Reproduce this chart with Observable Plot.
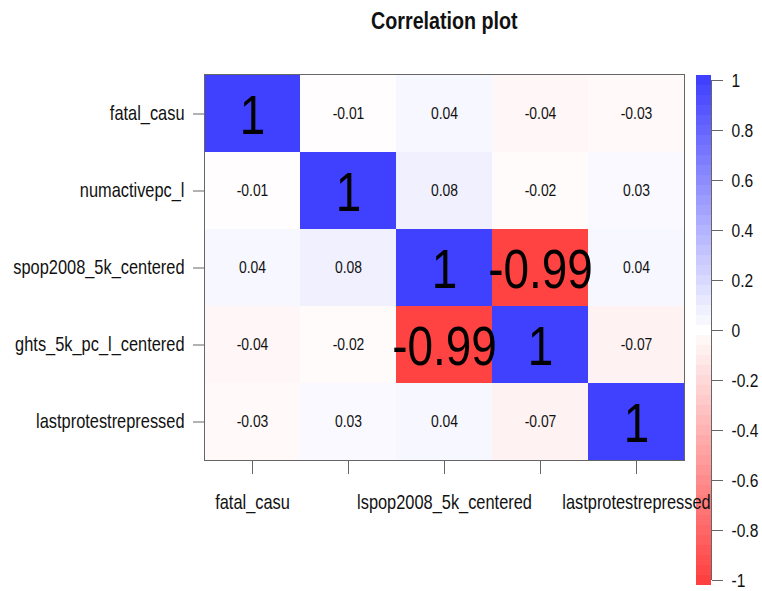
<!DOCTYPE html>
<html>
<head>
<meta charset="utf-8">
<script src="https://cdn.jsdelivr.net/npm/d3@7"></script>
<script src="https://cdn.jsdelivr.net/npm/@observablehq/plot@0.6"></script>
<style>
  html, body { margin: 0; padding: 0; background: #fff; }
  #wrap { position: relative; width: 762px; height: 591px; overflow: hidden; font-family: "Liberation Sans", Arial, sans-serif; }
  #title { position: absolute; left: 204px; width: 480px; top: 7px; text-align: center; z-index: 3; }
  #title span { display: inline-block; transform: scaleX(0.82); font-weight: bold; font-size: 24px; color: #111; }
  #main { position: absolute; left: 0; top: 0; z-index: 2; }
  #cbar { position: absolute; left: 682px; top: 0; z-index: 1; }
  svg text { font-family: "Liberation Sans", Arial, sans-serif; }
</style>
</head>
<body>
<div id="wrap">
  <div id="cbar"></div>
  <div id="main"></div>
  <div id="title"><span>Correlation plot</span></div>
</div>
<script>
// Row / column labels as they appear in the picture
const yLabels = ["fatal_casu", "numactivepc_l", "spop2008_5k_centered", "ghts_5k_pc_l_centered", "lastprotestrepressed"];
const xLabels = ["fatal_casu", "", "lspop2008_5k_centered", "", "lastprotestrepressed"];

// Correlation matrix, row by row
const row0 = [1, -0.01, 0.04, -0.04, -0.03];
const row1 = [-0.01, 1, 0.08, -0.02, 0.03];
const row2 = [0.04, 0.08, 1, -0.99, 0.04];
const row3 = [-0.04, -0.02, -0.99, 1, -0.07];
const row4 = [-0.03, 0.03, 0.04, -0.07, 1];

// Colour bar tick labels
const cbTicks = [1, 0.8, 0.6, 0.4, 0.2, 0, -0.2, -0.4, -0.6, -0.8, -1];

const rows = [row0, row1, row2, row3, row4];
const cells = [];
rows.forEach((r, i) => r.forEach((v, j) => cells.push({row: i, col: j, value: v})));

const colorScale = {type: "linear", domain: [-1, 0, 1], range: ["#FF4040", "#FFFFFF", "#4040FF"], interpolate: "rgb"};
const idx = [0, 1, 2, 3, 4];
const hyph = s => s.replace(/\u2212/g, "-");
const fmt = v => (v === 1 ? "1" : hyph(d3.format(".2f")(v)));

const main = Plot.plot({
  width: 762,
  height: 591,
  marginLeft: 204,
  marginRight: 78,
  marginTop: 74,
  marginBottom: 131,
  style: {fontSize: "20px", background: "transparent"},
  x: {type: "band", domain: idx, padding: 0, label: null},
  y: {type: "band", domain: idx, padding: 0, label: null},
  color: colorScale,
  marks: [
    Plot.cell(cells, {x: "col", y: "row", fill: "value", inset: 0}),
    Plot.text(cells.filter(d => Math.abs(d.value) < 0.5), {x: "col", y: "row", text: d => fmt(d.value), fontSize: 17, fill: "#111"}),
    Plot.text(cells.filter(d => Math.abs(d.value) >= 0.5), {x: "col", y: "row", text: d => fmt(d.value), fontSize: 56, fill: "#000", dy: 2}),
    Plot.frame({stroke: "#666"}),
    Plot.axisX({anchor: "bottom", tickSize: 14, tickPadding: 20, tickFormat: i => xLabels[i], stroke: "#666", fill: "#111", fontSize: 20, label: null}),
    Plot.axisY({anchor: "left", tickSize: 11, tickPadding: 9, tickFormat: i => yLabels[i], stroke: "#666", fill: "#111", fontSize: 20, label: null})
  ]
});
document.getElementById("main").appendChild(main);

// Colour bar bands (legend), step 0.04
const bands = d3.range(51).map(k => {
  const c = -1 + k * 0.04;
  return {y1: c - 0.02, y2: c + 0.02, value: c};
});

const cbar = Plot.plot({
  width: 80,
  height: 591,
  marginLeft: 14,
  marginRight: 51,
  marginTop: 80,
  marginBottom: 11,
  style: {fontSize: "19px", background: "transparent", overflow: "visible"},
  x: {domain: [0, 1], axis: null},
  y: {domain: [-1, 1], label: null},
  color: colorScale,
  marks: [
    Plot.rect(bands, {x1: 0, x2: 1, y1: "y1", y2: "y2", fill: "value"}),
    Plot.ruleX([1], {y1: -1, y2: 1, stroke: "#666"}),
    Plot.axisY({anchor: "right", ticks: cbTicks, tickSize: 11, tickPadding: 9, tickFormat: d => hyph(d3.format("~g")(d)), stroke: "#666", fill: "#111", fontSize: 19, label: null})
  ]
});
document.getElementById("cbar").appendChild(cbar);

// Condense all texts horizontally (the reference uses a narrow-looking font)
for (const svg of [main, cbar]) {
  svg.querySelectorAll("text").forEach(t => {
    const tr = t.getAttribute("transform") || "";
    t.setAttribute("transform", tr + " scale(0.82,1)");
  });
}
</script>
</body>
</html>
